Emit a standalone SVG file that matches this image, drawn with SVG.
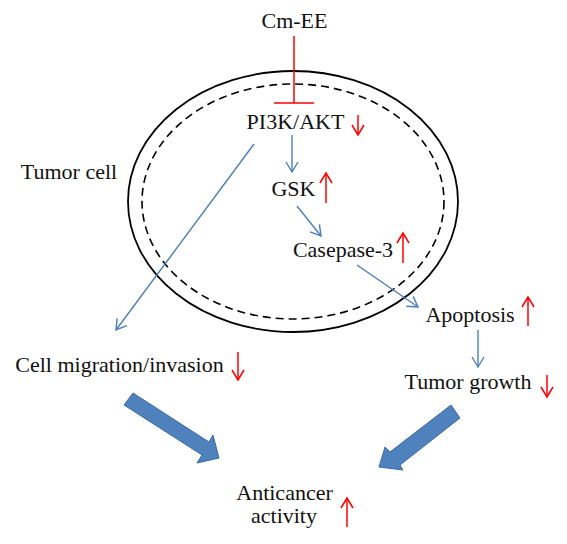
<svg xmlns="http://www.w3.org/2000/svg" width="567" height="544" viewBox="0 0 567 544">
<style>
text{font-family:"Liberation Serif","Times New Roman",serif;font-size:22px;fill:#111;text-anchor:middle}
.b{stroke:#4a7ebb;stroke-width:1.4;fill:none}
.r{stroke:#ff0000;stroke-width:1.5;fill:none}
.big{fill:#4f81bd;stroke:#3d6ba3;stroke-width:1}
</style>
<defs>
<marker id="mb" markerUnits="userSpaceOnUse" markerWidth="14" markerHeight="14" refX="11" refY="7" orient="auto">
<path d="M1,1 L11,7 L1,13" fill="none" stroke="#4a7ebb" stroke-width="1.4"/>
</marker>
<marker id="mr" markerUnits="userSpaceOnUse" markerWidth="14" markerHeight="14" refX="11" refY="7" orient="auto">
<path d="M1,1 L11,7 L1,13" fill="none" stroke="#ff0000" stroke-width="1.5"/>
</marker>
</defs>
<rect width="567" height="544" fill="#fff"/>
<g id="cell">
<ellipse cx="293" cy="201.5" rx="165" ry="130.5" fill="none" stroke="#000" stroke-width="1.8"/>
<ellipse cx="293" cy="201.5" rx="151" ry="117.5" fill="none" stroke="#000" stroke-width="1.6" stroke-dasharray="8 5"/>
<text x="69" y="179">Tumor cell</text>
</g>
<g id="cmee"><text x="294.5" y="28">Cm-EE</text></g>
<g id="pi3k"><text x="295.5" y="129">PI3K/AKT</text><line class="r" x1="358" y1="115" x2="358" y2="135" marker-end="url(#mr)"/></g>
<g id="gsk"><text x="293.5" y="196">GSK</text><line class="r" x1="326" y1="203" x2="326" y2="173" marker-end="url(#mr)"/></g>
<g id="casepase"><text x="343" y="257">Casepase-3</text><line class="r" x1="403" y1="263" x2="403" y2="233" marker-end="url(#mr)"/></g>
<g id="migration"><text x="119.5" y="372">Cell migration/invasion</text><line class="r" x1="238" y1="352" x2="238" y2="380" marker-end="url(#mr)"/></g>
<g id="apoptosis"><text x="470" y="322">Apoptosis</text><line class="r" x1="528" y1="326" x2="528" y2="297" marker-end="url(#mr)"/></g>
<g id="growth"><text x="468" y="389">Tumor growth</text><line class="r" x1="547" y1="375" x2="547" y2="397" marker-end="url(#mr)"/></g>
<g id="anticancer"><text x="284.5" y="500">Anticancer</text><text x="284" y="523">activity</text><line class="r" x1="347" y1="527" x2="347" y2="498" marker-end="url(#mr)"/></g>
<g id="connectors">
<line class="r" x1="294" y1="36" x2="294" y2="103"/>
<line class="r" x1="274" y1="103" x2="314" y2="103"/>
<line class="b" x1="292" y1="135" x2="292" y2="172" marker-end="url(#mb)"/>
<line class="b" x1="297" y1="206" x2="321" y2="236" marker-end="url(#mb)"/>
<line class="b" x1="357" y1="265" x2="418" y2="307" marker-end="url(#mb)"/>
<line class="b" x1="478" y1="330" x2="478" y2="367" marker-end="url(#mb)"/>
<line class="b" x1="254" y1="144" x2="116" y2="330" marker-end="url(#mb)"/>
<polygon class="big" points="133,393 209,442 213,435 219,458 197,463 202,455 124,405"/>
<polygon class="big" points="451,405 390,452 385,447 379,467 403,470 400,465 460,418"/>
</g>
</svg>
